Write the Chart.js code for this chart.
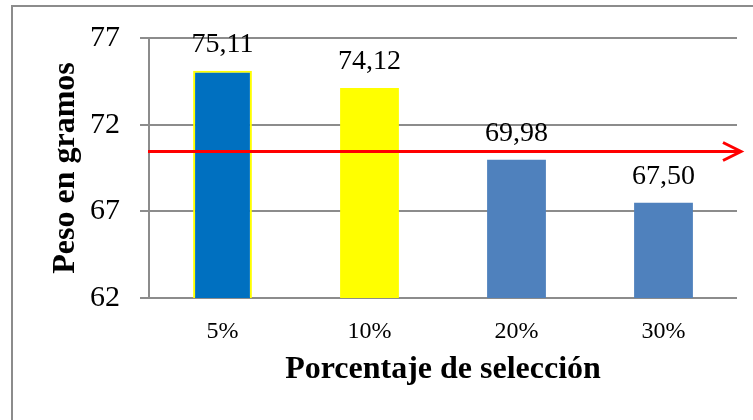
<!DOCTYPE html>
<html>
<head>
<meta charset="utf-8">
<script src="https://cdn.jsdelivr.net/npm/chart.js@4"></script>
<style>
  html, body { margin: 0; padding: 0; background: #fff; overflow: hidden; }
  canvas { display: block; }
</style>
</head>
<body>
<canvas id="chart" width="753" height="420"></canvas>
<script>
// weight per selection percentage
const categories = ['5%', '10%', '20%', '30%'];
const pesos = [75.11, 74.12, 69.98, 67.50];
const barColors = ['#0070C0', '#FFFF00', '#4F81BD', '#4F81BD'];
const barBorders = ['#FFFF00', '#FFFF00', '#4F81BD', '#4F81BD'];
const barBorderWidths = [2, 0, 0, 0];
const yTicks = [62, 67, 72, 77];
const referenceLine = 70.45;

const serif = '"Liberation Serif", "Times New Roman", serif';

// outer frame: only the left and top edges fall inside the canvas
const frame = {
  id: 'frame',
  beforeDraw(chart) {
    const ctx = chart.ctx;
    ctx.save();
    ctx.strokeStyle = '#8c8c8c';
    ctx.lineWidth = 2;
    ctx.beginPath();
    ctx.moveTo(12, chart.height);
    ctx.lineTo(12, 6);
    ctx.lineTo(chart.width, 6);
    ctx.stroke();
    ctx.restore();
  }
};

// value labels above bars plus the red reference arrow
const overlay = {
  id: 'overlay',
  afterDatasetsDraw(chart) {
    const ctx = chart.ctx;
    const meta = chart.getDatasetMeta(0);
    ctx.save();
    ctx.fillStyle = '#000';
    ctx.font = '28px ' + serif;
    ctx.textAlign = 'center';
    ctx.textBaseline = 'alphabetic';
    meta.data.forEach((bar, i) => {
      ctx.fillText(pesos[i].toFixed(2).replace('.', ','), bar.x, bar.y - 19);
    });

    const y = chart.scales.y.getPixelForValue(referenceLine);
    const x0 = chart.chartArea.left - 1;
    const x1 = chart.chartArea.right + 4;
    ctx.strokeStyle = '#FF0000';
    ctx.lineWidth = 3;
    ctx.beginPath();
    ctx.moveTo(x0, y);
    ctx.lineTo(x1, y);
    ctx.stroke();
    ctx.beginPath();
    ctx.moveTo(x1 - 18, y - 9);
    ctx.lineTo(x1, y);
    ctx.lineTo(x1 - 18, y + 9);
    ctx.stroke();
    ctx.restore();
  }
};

new Chart(document.getElementById('chart'), {
  type: 'bar',
  data: {
    labels: categories,
    datasets: [{
      data: pesos,
      backgroundColor: barColors,
      borderColor: barBorders,
      borderWidth: barBorderWidths,
      categoryPercentage: 1,
      barPercentage: 0.4
    }]
  },
  options: {
    responsive: false,
    animation: false,
    layout: { padding: { left: 0, right: 16, top: 37, bottom: 0 } },
    plugins: { legend: { display: false }, tooltip: { enabled: false } },
    scales: {
      x: {
        grid: { display: false, drawTicks: false },
        border: { display: false },
        ticks: { color: '#000', font: { family: serif, size: 24 }, padding: 19 },
        title: {
          display: true,
          text: 'Porcentaje de selección',
          color: '#000',
          font: { family: serif, size: 32, weight: 'bold', lineHeight: 1 },
          padding: { top: 0, bottom: 34 }
        },
        afterFit(scale) { scale.height = 122; }
      },
      y: {
        min: 62,
        max: 77,
        afterBuildTicks(scale) { scale.ticks = yTicks.map(v => ({ value: v })); },
        grid: { color: '#8c8c8c', lineWidth: 2, tickLength: 9 },
        border: { display: true, color: '#8c8c8c', width: 2 },
        ticks: { color: '#000', font: { family: serif, size: 30 }, padding: 20 },
        title: {
          display: true,
          text: 'Peso en gramos',
          color: '#000',
          font: { family: serif, size: 32, weight: 'bold', lineHeight: 1 },
          padding: { top: 50, bottom: 0 }
        },
        afterFit(scale) { scale.width = 149; }
      }
    }
  },
  plugins: [frame, overlay]
});
</script>
</body>
</html>
